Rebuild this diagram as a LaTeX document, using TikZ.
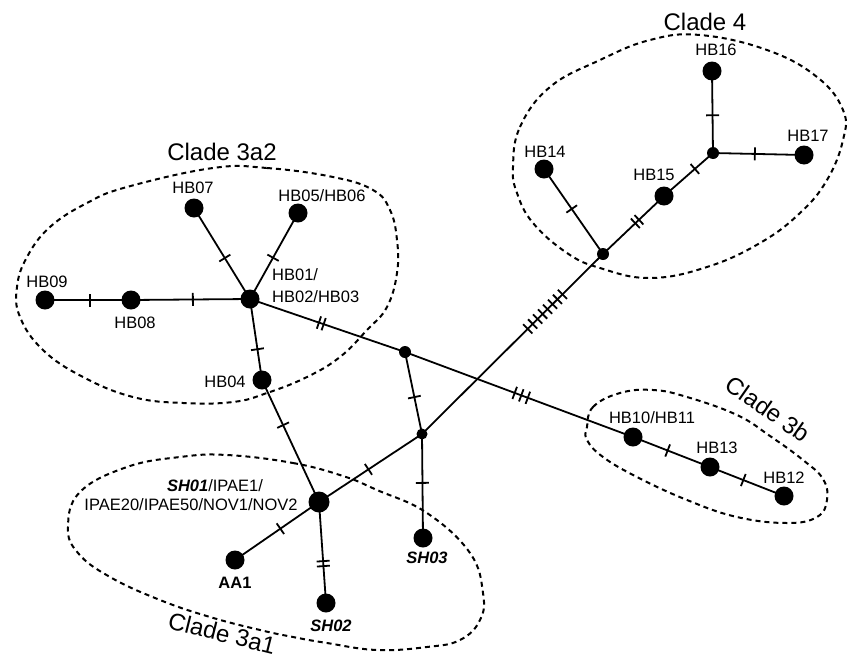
\documentclass[tikz,border=0pt]{standalone}
\usepackage{fontspec}
\setmainfont{Liberation Sans}
\usetikzlibrary{decorations.markings,backgrounds}
\begin{document}
\begin{tikzpicture}[x=1pt,y=-1pt,
 big/.style={circle,fill=black,inner sep=0,minimum size=19pt},
 small/.style={circle,fill=black,inner sep=0,minimum size=12pt},
 lbl/.style={font=\fontsize{16.5}{22}\selectfont, inner sep=0},
 clade/.style={font=\fontsize{24}{28}\selectfont, inner sep=0},
 edge/.style={line width=1.8pt},
 outline/.style={line width=2pt, dash pattern=on 5pt off 4pt},
 tk/.style n args={3}{postaction={decorate,decoration={markings,mark=at position #1 with {\foreach \i in {1,...,#2}{\draw[line width=1.8pt] ({(\i-(#2+1)/2)*#3},-6.5pt) -- ({(\i-(#2+1)/2)*#3},6.5pt);}}}}}
]
\useasboundingbox (0,0) rectangle (849,659);

% haplotype nodes
\node[big] (hb09) at (45,300) {};
\node[big] (hb08) at (131,300) {};
\node[big] (hb01) at (250,299) {};
\node[big] (hb07) at (194,208) {};
\node[big] (hb05) at (298,213) {};
\node[big] (hb04) at (262,380) {};
\node[small] (n1) at (405,352) {};
\node[big, minimum size=21pt] (sh01) at (319,502) {};
\node[small, minimum size=11pt] (n2) at (422,434) {};
\node[big] (sh03) at (423,538) {};
\node[big] (aa1) at (235,560) {};
\node[big] (sh02) at (326,603) {};
\node[small] (n3) at (603,254) {};
\node[big] (hb10) at (633,437) {};
\node[big] (hb13) at (710,467) {};
\node[big] (hb12) at (784,496) {};
\node[big] (hb15) at (664,196) {};
\node[small] (n4) at (713,153) {};
\node[big] (hb16) at (712,71) {};
\node[big] (hb17) at (804,155) {};
\node[big] (hb14) at (544,169) {};

\begin{scope}[on background layer]
\draw[edge,tk={0.52}{1}{5pt}] (hb09.center) -- (hb08.center);
\draw[edge,tk={0.52}{1}{5pt}] (hb08.center) -- (hb01.center);
\draw[edge,tk={0.55}{1}{5pt}] (hb07.center) -- (hb01.center);
\draw[edge,tk={0.52}{1}{5pt}] (hb05.center) -- (hb01.center);
\draw[edge,tk={0.62}{1}{5pt}] (hb01.center) -- (hb04.center);
\draw[edge,tk={0.46}{2}{5pt}] (hb01.center) -- (n1.center);
\draw[edge,tk={0.37}{1}{5pt}] (hb04.center) -- (sh01.center);
\draw[edge,tk={0.55}{1}{5pt}] (n1.center) -- (n2.center);
\draw[edge,tk={0.48}{1}{5pt}] (sh01.center) -- (n2.center);
\draw[edge,tk={0.47}{1}{5pt}] (n2.center) -- (sh03.center);
\draw[edge,tk={0.46}{1}{5pt}] (sh01.center) -- (aa1.center);
\draw[edge,tk={0.61}{2}{5pt}] (sh01.center) -- (sh02.center);
\draw[edge,tk={0.68}{8}{7pt}] (n2.center) -- (n3.center);
\draw[edge,tk={0.51}{3}{7pt}] (n1.center) -- (hb10.center);
\draw[edge,tk={0.47}{1}{5pt}] (hb14.center) -- (n3.center);
\draw[edge,tk={0.56}{2}{5pt}] (n3.center) -- (hb15.center);
\draw[edge,tk={0.63}{1}{5pt}] (hb15.center) -- (n4.center);
\draw[edge,tk={0.46}{1}{5pt}] (n4.center) -- (hb16.center);
\draw[edge,tk={0.46}{1}{5pt}] (n4.center) -- (hb17.center);
\draw[edge,tk={0.45}{1}{5pt}] (hb10.center) -- (hb13.center);
\draw[edge,tk={0.45}{1}{5pt}] (hb13.center) -- (hb12.center);
\end{scope}

% clade outlines
\draw[outline] plot[smooth cycle, tension=0.7] coordinates {(213,168) (267,168) (333,177) (373,190) (390,210) (397,240) (397,273) (387,307) (367,330) (340,357) (307,377) (267,393) (233,402) (183,403) (133,397) (83,377) (43,350) (20,317) (17,287) (27,257) (50,227) (87,203) (127,187)};
\draw[outline] plot[smooth cycle, tension=0.7] coordinates {(513,167) (520,127) (550,87) (600,60) (650,40) (700,35) (767,50) (817,77) (843,110) (843,140) (827,180) (800,213) (760,243) (707,267) (650,278) (600,268) (567,253) (533,223) (517,193)};
\draw[outline] plot[smooth cycle, tension=0.7] coordinates {(587,427) (593,407) (620,393) (653,390) (687,397) (737,415) (770,436) (803,460) (823,479) (827,500) (817,517) (787,523) (737,517) (687,500) (637,477) (603,457) (587,440)};
\draw[outline] plot[smooth cycle, tension=0.7] coordinates {(227,455) (293,463) (343,476) (377,490) (427,513) (470,553) (483,593) (480,620) (460,640) (427,647) (377,650) (327,643) (293,637) (260,630) (210,617) (160,600) (110,577) (78,553) (68,527) (80,492) (127,467) (180,457)};

% labels
\node[lbl] (l07) at (193,188) {HB07};
\node[lbl] (l05) at (322,196) {HB05/HB06};
\node[lbl, anchor=west, align=left] (l01) at (272,286) {HB01/\\HB02/HB03};
\node[lbl] (l09) at (47,282) {HB09};
\node[lbl] (l08) at (135,323) {HB08};
\node[lbl] (l04) at (225,382) {HB04};
\node[lbl] (l1a) at (215,486) {\textbf{\textit{SH01}}/IPAE1/};
\node[lbl] (l1b) at (191,505) {IPAE20/IPAE50/NOV1/NOV2};
\node[lbl] (laa) at (235,583) {\textbf{AA1}};
\node[lbl] (ls2) at (331,626) {\textbf{\textit{SH02}}};
\node[lbl] (ls3) at (427,558) {\textbf{\textit{SH03}}};
\node[lbl] (l10) at (652,418) {HB10/HB11};
\node[lbl] (l13) at (717,448) {HB13};
\node[lbl] (l12) at (784,478) {HB12};
\node[lbl] (l16) at (716,50) {HB16};
\node[lbl] (l17) at (808,136) {HB17};
\node[lbl] (l14) at (545,152) {HB14};
\node[lbl] (l15) at (654,175) {HB15};

\node[clade] (c3a2) at (222,152) {Clade 3a2};
\node[clade] (c4) at (705,22) {Clade 4};
\node[clade, rotate=-14] (c3a1) at (222,633) {Clade 3a1};
\node[clade, rotate=-35] (c3b) at (768,409) {Clade 3b};
\end{tikzpicture}
\end{document}
